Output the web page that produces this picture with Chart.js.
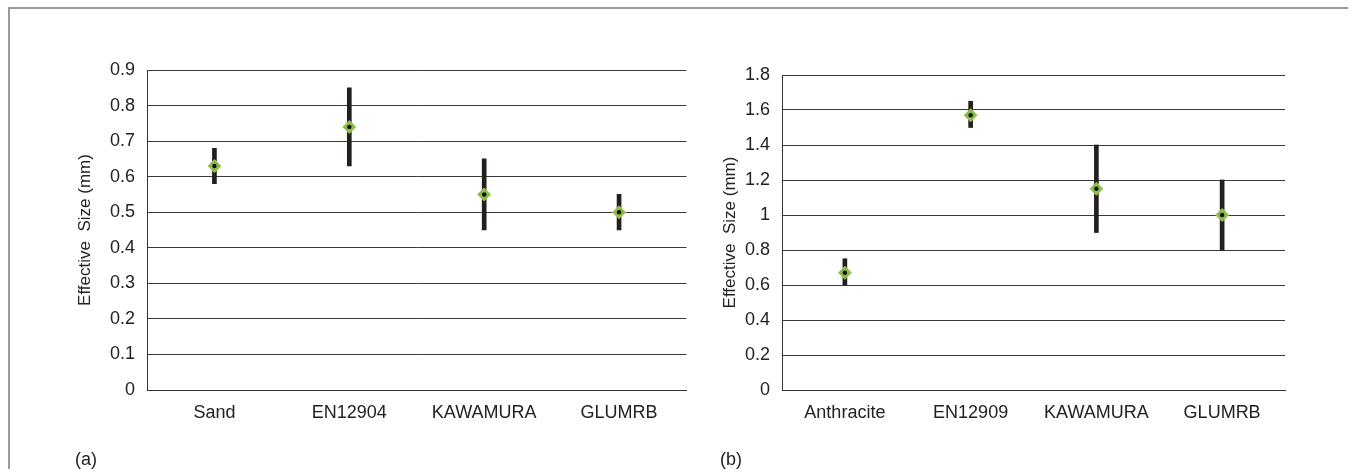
<!DOCTYPE html>
<html>
<head>
<meta charset="utf-8">
<script src="https://cdn.jsdelivr.net/npm/chart.js@4/dist/chart.umd.min.js"></script>
<style>
  html, body { margin: 0; padding: 0; background: #fff; }
  body { width: 1351px; height: 469px; position: relative; overflow: hidden; font-family: "Liberation Sans", Arial, sans-serif; }
  .frame { position: absolute; left: 8px; top: 7px; width: 1338px; height: 480px; border-top: 2px solid #9a9a9a; border-left: 2px solid #9a9a9a; }
  .panel { position: absolute; top: 0; height: 469px; }
  .tag { position: absolute; top: 449px; font-size: 18px; color: #222; }
</style>
</head>
<body>
<div class="frame"></div>
<div class="panel" style="left:0;width:694px"><canvas id="chartA"></canvas></div>
<div class="panel" style="left:694px;width:657px"><canvas id="chartB"></canvas></div>
<div class="tag" style="left:75px">(a)</div>
<div class="tag" style="left:720px">(b)</div>
<script>
// Panel (a): sand
const sandLabels = ['Sand', 'EN12904', 'KAWAMURA', 'GLUMRB'];
const sandMean = [0.63, 0.74, 0.55, 0.50];
const sandMin = [0.58, 0.63, 0.45, 0.45];
const sandMax = [0.68, 0.85, 0.65, 0.55];

// Panel (b): anthracite
const anthLabels = ['Anthracite', 'EN12909', 'KAWAMURA', 'GLUMRB'];
const anthMean = [0.67, 1.57, 1.15, 1.00];
const anthMin = [0.60, 1.50, 0.90, 0.80];
const anthMax = [0.75, 1.65, 1.40, 1.20];

const font = { family: '"Liberation Sans", Arial, sans-serif', size: 18 };

function makeChart(id, labels, mean, lo, hi, yMax, step, pad, yWidth, titlePad) {
  const ranges = lo.map((v, i) => [v, hi[i]]);
  return new Chart(document.getElementById(id), {
    data: {
      labels: labels,
      datasets: [
        { type: 'bar', data: ranges, backgroundColor: '#231f20', barThickness: 4, order: 3 },
        { type: 'line', data: mean, showLine: false, pointStyle: 'rectRot', pointRadius: 6.5,
          pointBackgroundColor: '#8cbb48', pointBorderColor: '#9dc45f', pointBorderWidth: 1, order: 2 },
        { type: 'line', data: mean, showLine: false, pointStyle: 'circle', pointRadius: 2.2,
          pointBackgroundColor: '#111', pointBorderColor: '#111', pointBorderWidth: 0, order: 1 }
      ]
    },
    options: {
      responsive: true,
      maintainAspectRatio: false,
      animation: false,
      layout: { padding: pad },
      plugins: { legend: { display: false }, tooltip: { enabled: false } },
      scales: {
        x: {
          grid: { display: false, drawTicks: false },
          border: { display: true, color: '#333', width: 1 },
          ticks: { color: '#222', font: font, padding: 12 },
          afterFit: s => { s.height = 79; }
        },
        y: {
          min: 0, max: yMax,
          grid: { color: '#3a3a3a', lineWidth: 1, drawTicks: false },
          border: { display: true, color: '#333', width: 1 },
          ticks: { stepSize: step, color: '#222', font: font, padding: 12,
                   callback: v => String(+v.toFixed(1)) },
          title: { display: true, text: 'Effective  Size (mm)', color: '#222',
                   font: { family: font.family, size: 17 },
                   padding: { top: titlePad, bottom: 0 } },
          afterFit: s => { s.width = yWidth; }
        }
      }
    }
  });
}

makeChart('chartA', sandLabels, sandMean, sandMin, sandMax, 0.9, 0.1,
  { top: 70, right: 0, bottom: 0, left: 0 }, 147, 75);
makeChart('chartB', anthLabels, anthMean, anthMin, anthMax, 1.8, 0.2,
  { top: 75, right: 66, bottom: 0, left: 0 }, 88, 26);
</script>
</body>
</html>
